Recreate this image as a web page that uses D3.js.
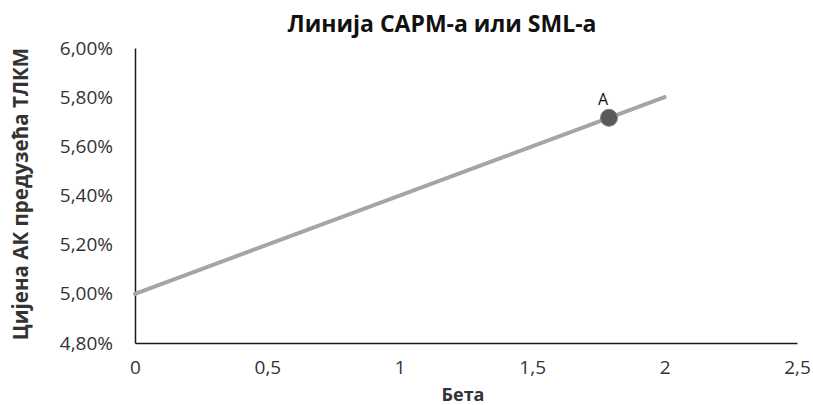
<!DOCTYPE html>
<html><head><meta charset="utf-8">
<script src="https://cdn.jsdelivr.net/npm/d3@7"></script>
<style>body{margin:0;background:#fff;}svg{display:block;font-family:"Open Sans",sans-serif;}</style>
</head><body>
<svg id="c" width="813" height="405"></svg>
<script>
const title = "Линија CAPM-a или SML-a";
const xTitle = "Бета";
const yTitle = "Цијена АК предузећа ТЛКМ";
const lineBeta = [0, 2];
const lineReturn = [5.00, 5.80];
const pointBeta = [1.79];
const pointReturn = [5.716];
const pointLabels = ["A"];
const xTicks = [0, 0.5, 1, 1.5, 2, 2.5];
const yTicks = [4.8, 5.0, 5.2, 5.4, 5.6, 5.8, 6.0];

const svg = d3.select("#c");
const x = d3.scaleLinear().domain([0, 2.5]).range([135, 797]);
const y = d3.scaleLinear().domain([4.8, 6.0]).range([343, 48]);
const loc = d3.formatLocale({decimal: ",", thousands: ".", grouping: [3], currency: ["", ""]});
const fy = v => loc.format(".2f")(v) + "%";
const fx = v => loc.format("~g")(v);

const yAxis = d3.axisLeft(y).tickValues(yTicks).tickFormat(fy).tickSize(0).tickPadding(22);
const gy = svg.append("g").attr("transform", `translate(${x(0)},0)`).call(yAxis);
gy.select(".domain").attr("stroke", "#1a1a1a").attr("stroke-width", 1.5);
gy.selectAll("text").attr("font-size", 19).attr("fill", "#333").attr("font-family", "Open Sans");

const xAxis = d3.axisBottom(x).tickValues(xTicks).tickFormat(fx).tickSize(0).tickPadding(18);
const gx = svg.append("g").attr("transform", `translate(0,${y(4.8)})`).call(xAxis);
gx.select(".domain").attr("stroke", "#1a1a1a").attr("stroke-width", 1.5);
gx.selectAll("text").attr("font-size", 19).attr("fill", "#333").attr("font-family", "Open Sans");

const lineData = lineBeta.map((b, i) => [b, lineReturn[i]]);
svg.append("path").datum(lineData)
  .attr("d", d3.line().x(d => x(d[0])).y(d => y(d[1])))
  .attr("fill", "none").attr("stroke", "#A5A5A5").attr("stroke-width", 4).attr("stroke-linecap", "round");

const pts = pointBeta.map((b, i) => ({b, r: pointReturn[i], l: pointLabels[i]}));
svg.selectAll("circle.pt").data(pts).enter().append("circle")
  .attr("cx", d => x(d.b)).attr("cy", d => y(d.r)).attr("r", 8.5)
  .attr("fill", "#595959").attr("stroke", "#7f7f7f").attr("stroke-width", 1);
svg.selectAll("text.pl").data(pts).enter().append("text")
  .attr("x", d => x(d.b) - 6).attr("y", d => y(d.r) - 13)
  .attr("text-anchor", "middle").attr("font-size", 16).attr("fill", "#111").text(d => d.l);

svg.append("text").attr("x", 442).attr("y", 32).attr("text-anchor", "middle")
  .attr("font-size", 23).attr("font-weight", "bold").attr("fill", "#111").text(title);
svg.append("text").attr("x", 463).attr("y", 401).attr("text-anchor", "middle")
  .attr("font-size", 18).attr("font-weight", "bold").attr("fill", "#333").text(xTitle);
svg.append("text").attr("transform", "translate(28,194) rotate(-90)").attr("text-anchor", "middle")
  .attr("font-size", 20.5).attr("font-weight", "bold").attr("fill", "#333").text(yTitle);
</script>
</body></html>
